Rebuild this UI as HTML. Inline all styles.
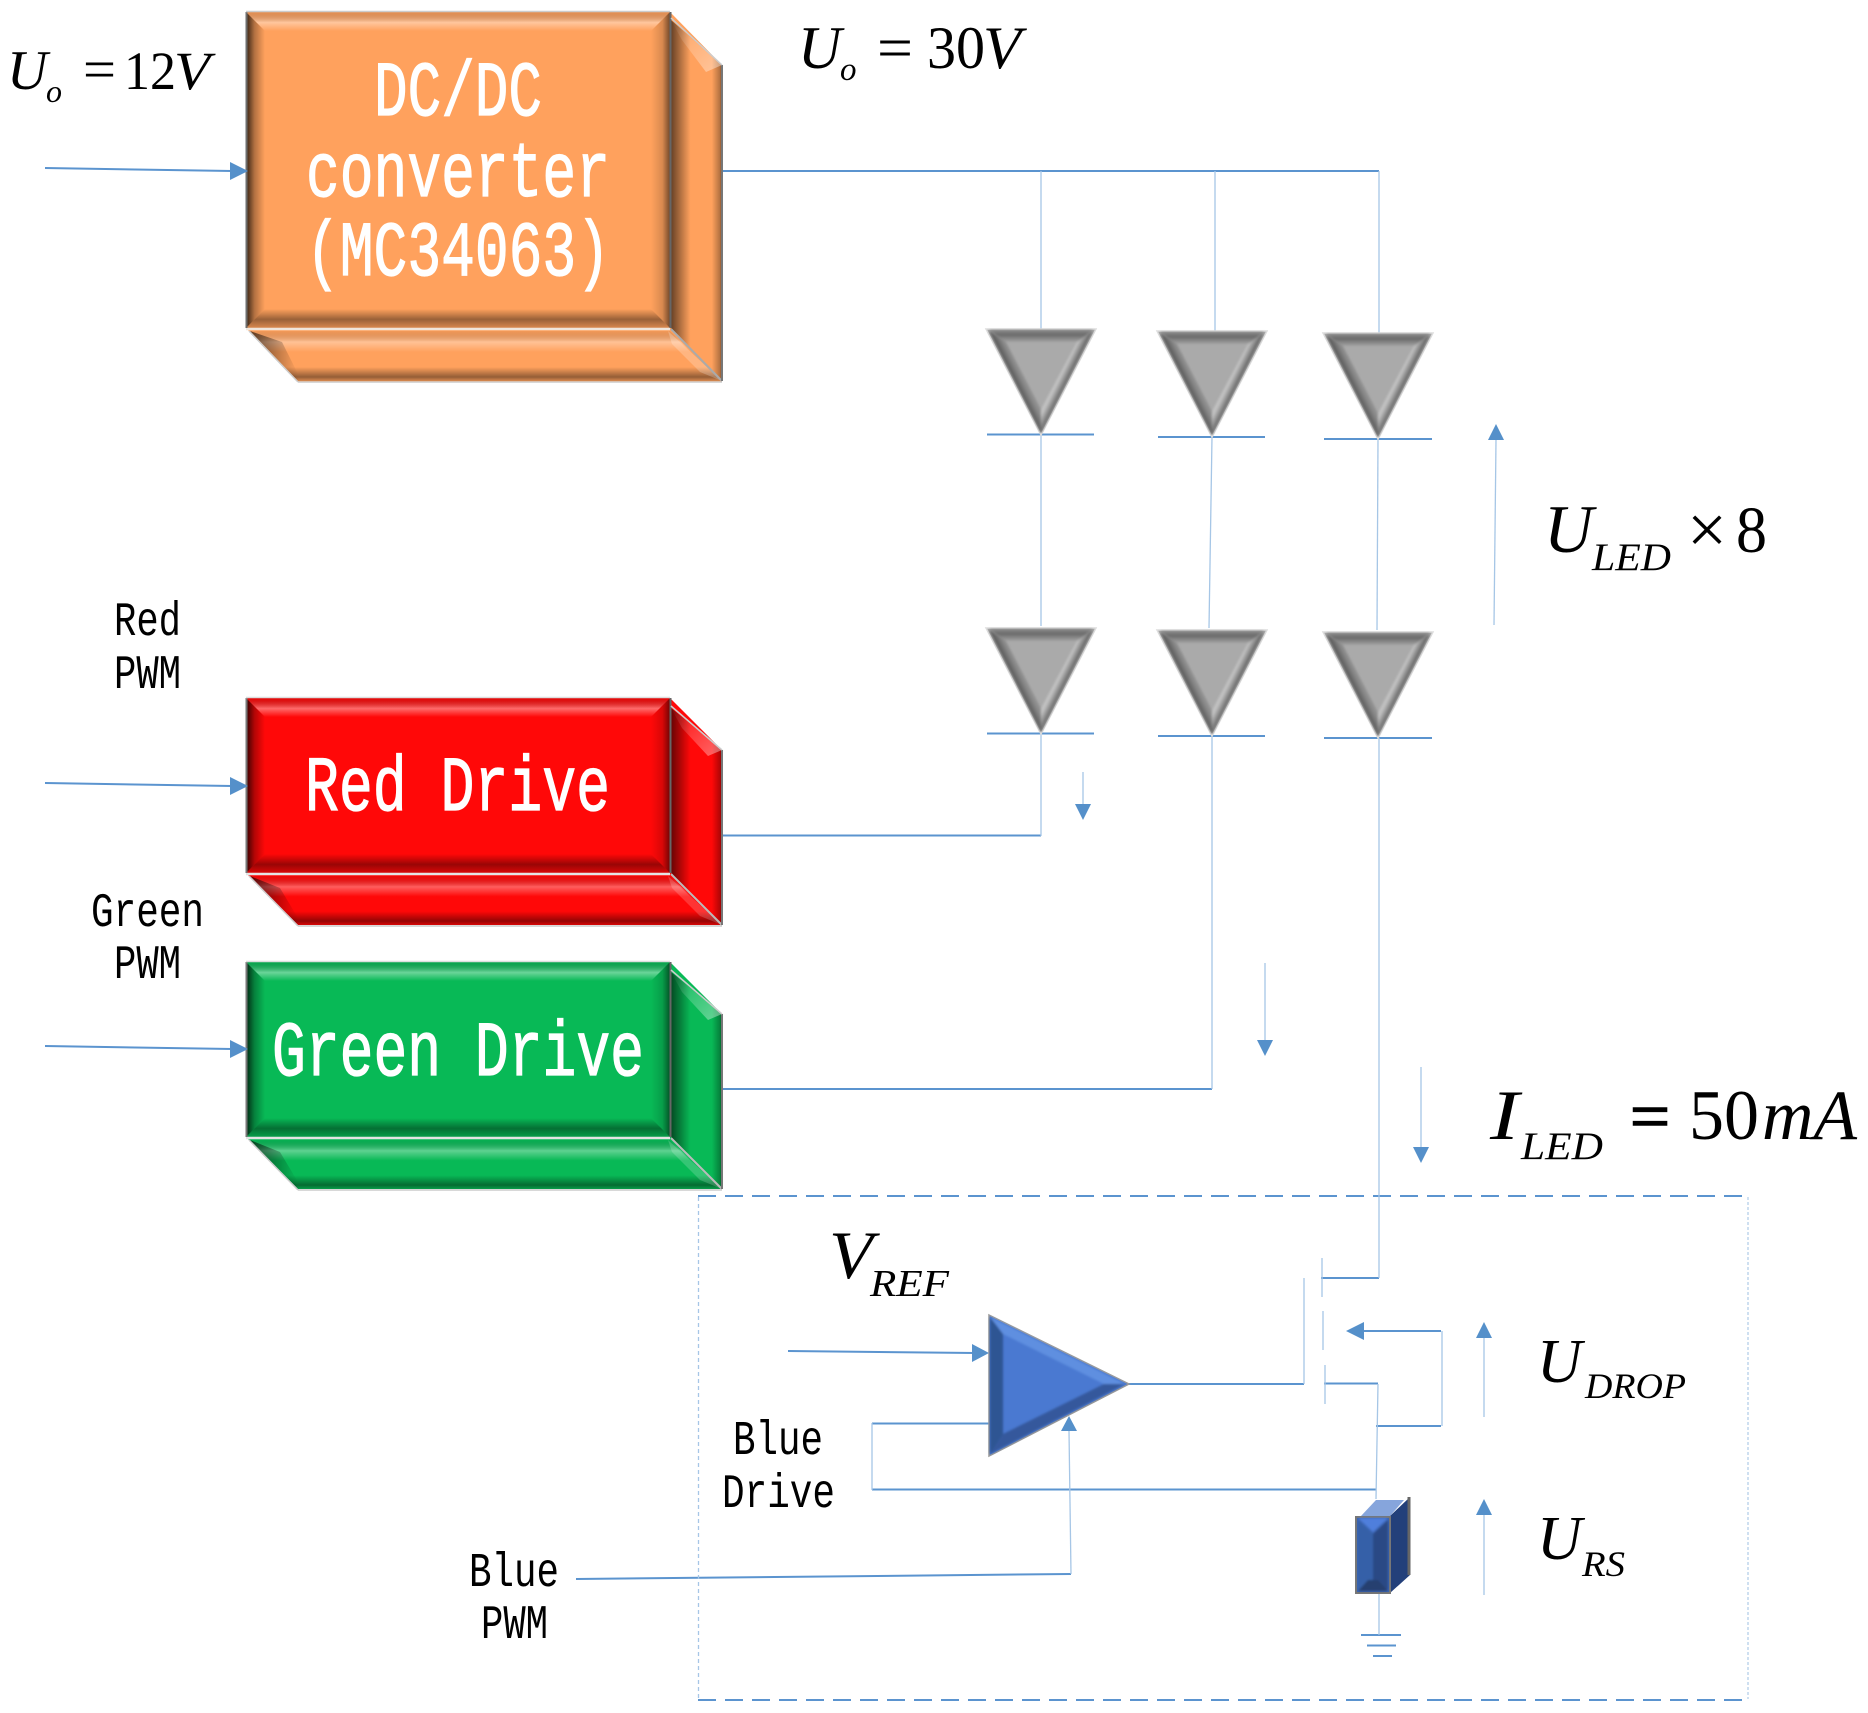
<!DOCTYPE html>
<html><head><meta charset="utf-8"><style>html,body{margin:0;padding:0;background:#fff}svg{display:block}
.m{font-family:"Liberation Mono",monospace}
.s{font-family:"Liberation Serif",serif}
.i{font-family:"Liberation Serif",serif;font-style:italic}
</style></head><body>
<svg xmlns="http://www.w3.org/2000/svg" width="1868" height="1713" viewBox="0 0 1868 1713">
<defs>
<filter id="b" x="-5%" y="-5%" width="110%" height="110%"><feGaussianBlur stdDeviation="1"/></filter>
<linearGradient id="gT" x1="0" y1="0" x2="0" y2="1"><stop offset="0" stop-color="#000" stop-opacity=".1"/><stop offset=".55" stop-color="#fff" stop-opacity=".4"/><stop offset="1" stop-color="#fff" stop-opacity="0"/></linearGradient>
<linearGradient id="gL" x1="0" y1="0" x2="1" y2="0"><stop offset="0" stop-color="#000" stop-opacity=".8"/><stop offset=".45" stop-color="#000" stop-opacity=".3"/><stop offset="1" stop-color="#000" stop-opacity="0"/></linearGradient>
<linearGradient id="gR" x1="0" y1="0" x2="1" y2="0"><stop offset="0" stop-color="#000" stop-opacity="0"/><stop offset=".6" stop-color="#000" stop-opacity=".15"/><stop offset="1" stop-color="#000" stop-opacity=".55"/></linearGradient>
<linearGradient id="gB" x1="0" y1="0" x2="0" y2="1"><stop offset="0" stop-color="#000" stop-opacity="0"/><stop offset=".55" stop-color="#000" stop-opacity=".4"/><stop offset="1" stop-color="#000" stop-opacity=".15"/></linearGradient>
<linearGradient id="gF" x1="0" y1="0" x2="0" y2="1"><stop offset="0" stop-color="#000" stop-opacity=".05"/><stop offset=".22" stop-color="#fff" stop-opacity=".35"/><stop offset=".42" stop-color="#fff" stop-opacity="0"/><stop offset=".72" stop-color="#000" stop-opacity="0"/><stop offset=".92" stop-color="#000" stop-opacity=".42"/><stop offset="1" stop-color="#000" stop-opacity=".15"/></linearGradient>
<linearGradient id="gS" x1="0" y1="0" x2="1" y2="0"><stop offset="0" stop-color="#000" stop-opacity=".6"/><stop offset=".38" stop-color="#000" stop-opacity="0"/><stop offset=".8" stop-color="#000" stop-opacity="0"/><stop offset=".96" stop-color="#000" stop-opacity=".3"/><stop offset="1" stop-color="#000" stop-opacity=".55"/></linearGradient>
<linearGradient id="gC" x1="0" y1="0" x2="1" y2="1"><stop offset="0" stop-color="#fff" stop-opacity="0"/><stop offset="1" stop-color="#fff" stop-opacity=".4"/></linearGradient>
<linearGradient id="gD" x1="0" y1="0" x2="1" y2="0"><stop offset="0" stop-color="#000" stop-opacity=".6"/><stop offset="1" stop-color="#000" stop-opacity="0"/></linearGradient>

<linearGradient id="dT" x1="0" y1="0" x2="0" y2="1"><stop offset="0" stop-color="#8a8a8a"/><stop offset=".4" stop-color="#6a6a6a"/><stop offset="1" stop-color="#a3a3a3"/></linearGradient>
<linearGradient id="dL" gradientUnits="userSpaceOnUse" x1="27" y1="52" x2="43" y2="44"><stop offset="0" stop-color="#4e4e4e"/><stop offset=".5" stop-color="#8a8a8a"/><stop offset="1" stop-color="#aaa"/></linearGradient>
<linearGradient id="dR" gradientUnits="userSpaceOnUse" x1="82" y1="52" x2="66" y2="44"><stop offset="0" stop-color="#5c5c5c"/><stop offset=".5" stop-color="#c4c4c4"/><stop offset="1" stop-color="#aaa"/></linearGradient>
<g id="dio">
<polygon points="0,0 110,0 55,106" fill="#aaa" stroke="#ddd" stroke-width="1.5"/>
<g filter="url(#b)">
<polygon points="3,1 107,1 91,13 20,13" fill="url(#dT)"/>
<polygon points="3,2 20,13 55,80 55,104" fill="url(#dL)"/>
<polygon points="107,2 91,13 55,80 55,104" fill="url(#dR)"/>
</g>
</g>

<g id="fr">
<polygon points="246,0 670,0 651,19 265,19" fill="url(#gT)"/>
<polygon points="246,0 265,19 265,156 246,175" fill="url(#gL)"/>
<polygon points="670,0 651,19 651,156 670,175" fill="url(#gR)"/>
<polygon points="246,175 265,156 651,156 670,175" fill="url(#gB)"/>
</g>
<g id="ex">
<polygon points="250,178 670,178 722,227 298,227" fill="url(#gF)"/>
<polygon points="250,178 280,190 298,220 298,227" fill="url(#gD)"/>
<polygon points="668,178 722,227 700,218 672,190" fill="#fff" opacity=".18"/>
<polygon points="671,10 722,52 722,227 671,175" fill="url(#gS)"/>
<polygon points="671,10 722,52 708,58 682,30" fill="url(#gC)"/>
<line x1="246" y1="176" x2="670" y2="176" stroke="#e4e4e4" stroke-width="2.5"/>
<line x1="246.5" y1="0" x2="246.5" y2="175" stroke="#777" stroke-width="2"/>
<line x1="670.5" y1="0" x2="670.5" y2="175" stroke="#666" stroke-width="2"/>
<line x1="671" y1="176" x2="722" y2="227" stroke="#bbb" stroke-width="2"/>
<line x1="722" y1="52" x2="722" y2="227" stroke="#777" stroke-width="2"/>
<line x1="671" y1="8" x2="722" y2="52" stroke="#ccc" stroke-width="1.5"/>
<line x1="246" y1="-.5" x2="670" y2="-.5" stroke="#ddd" stroke-width="1.5"/>
<line x1="298" y1="228" x2="722" y2="228" stroke="#ccc" stroke-width="1.5"/>
<line x1="249" y1="178" x2="298" y2="228" stroke="#ccc" stroke-width="1.5"/>
</g>
</defs>

<rect width="1868" height="1713" fill="#fff"/>

<!-- Orange box -->
<g>
<polygon points="246,12 670,12 722,65 722,382 298,382 246,328" fill="#ffa15d"/>
<polygon points="246,12 670,12 651,31 265,31" fill="url(#gT)"/>
<polygon points="246,12 265,31 265,309 246,328" fill="url(#gL)"/>
<polygon points="670,12 651,31 651,309 670,328" fill="url(#gR)"/>
<polygon points="246,328 265,309 651,309 670,328" fill="url(#gB)"/>
<polygon points="250,331 670,331 722,381 298,381" fill="url(#gF)"/>
<polygon points="250,331 282,342 298,374 298,381" fill="url(#gD)"/>
<polygon points="668,331 722,381 700,372 672,344" fill="#fff" opacity=".22"/>
<polygon points="671,20 722,65 722,381 671,328" fill="url(#gS)"/>
<polygon points="671,20 722,65 706,72 682,40" fill="url(#gC)"/>
<line x1="246" y1="329" x2="670" y2="329" stroke="#efe6dc" stroke-width="2.5"/>
<line x1="246.5" y1="12" x2="246.5" y2="328" stroke="#6e6e6e" stroke-width="2"/>
<line x1="670.5" y1="12" x2="670.5" y2="328" stroke="#666" stroke-width="2"/>
<line x1="671" y1="329" x2="722" y2="381" stroke="#aaa" stroke-width="2"/>
<line x1="722" y1="65" x2="722" y2="381" stroke="#777" stroke-width="2"/>
<line x1="671" y1="18" x2="722" y2="65" stroke="#ccc" stroke-width="1.5"/>
<line x1="246" y1="11.5" x2="670" y2="11.5" stroke="#ccc" stroke-width="1.5"/>
<line x1="298" y1="382" x2="722" y2="382" stroke="#ccc" stroke-width="1.5"/>
<line x1="249" y1="331" x2="298" y2="382" stroke="#ccc" stroke-width="1.5"/>
</g>
<!-- Red box -->
<polygon points="246,698 670,698 722,750 722,925 298,925 246,873" fill="#ff0808"/>
<use href="#fr" y="698"/><use href="#ex" y="698"/>
<!-- Green box -->
<polygon points="246,962 670,962 722,1014 722,1189 298,1189 246,1137" fill="#08b956"/>
<use href="#fr" y="962"/><use href="#ex" y="962"/>

<!-- box text -->
<g class="m" fill="#fff" stroke="#fff" stroke-width="1.2" font-size="78">
<text x="374" y="115" textLength="168" lengthAdjust="spacingAndGlyphs">DC/DC</text>
<text x="306" y="196" textLength="304" lengthAdjust="spacingAndGlyphs">converter</text>
<text x="306" y="275" textLength="304" lengthAdjust="spacingAndGlyphs">(MC34063)</text>
<text x="305" y="810" textLength="305" lengthAdjust="spacingAndGlyphs">Red Drive</text>
<text x="272" y="1075" textLength="372" lengthAdjust="spacingAndGlyphs">Green Drive</text>
</g>

<!-- heavy wires -->
<g fill="none" stroke="#5b94cf" stroke-width="2">
<line x1="45" y1="168" x2="232" y2="171"/>
<line x1="45" y1="783" x2="232" y2="786"/>
<line x1="45" y1="1046" x2="232" y2="1049"/>
<polyline points="723,171 1379,171"/>
<polyline points="723,835.500 1041,835.500"/>
<polyline points="723,1089 1212,1089"/>
<line x1="987" y1="434.500" x2="1094" y2="434.500"/><line x1="1158" y1="437" x2="1265" y2="437"/><line x1="1324" y1="439" x2="1432" y2="439"/>
<line x1="987" y1="733.500" x2="1094" y2="733.500"/><line x1="1158" y1="736" x2="1265" y2="736"/><line x1="1324" y1="738" x2="1432" y2="738"/>
<line x1="788" y1="1351" x2="975" y2="1353"/>
<polyline points="1127,1384 1304,1384"/>
<polyline points="1321,1278 1379,1278"/>
<polyline points="1355,1331 1441,1331"/>
<polyline points="1324,1383.500 1378,1383.500"/>
<polyline points="1376,1426 1441,1426"/>
<polyline points="989,1423.500 872,1423.500"/>
<polyline points="872,1489.500 1376,1489.500"/>
<line x1="576" y1="1579" x2="1071" y2="1574"/>
<line x1="1361" y1="1635" x2="1401" y2="1635"/><line x1="1367" y1="1645.500" x2="1396" y2="1645.500"/><line x1="1373" y1="1656" x2="1392" y2="1656"/>
<line x1="698" y1="1196" x2="1749" y2="1196" stroke-dasharray="18 9"/>
<line x1="698" y1="1700" x2="1749" y2="1700" stroke-dasharray="18 9"/>
</g>
<!-- light wires -->
<g fill="none" stroke="#a6c6e6" stroke-width="1.3">
<line x1="1041" y1="171" x2="1041" y2="329"/><line x1="1215" y1="171" x2="1215" y2="331"/><line x1="1379" y1="171" x2="1379" y2="333"/>
<line x1="1041" y1="434" x2="1041" y2="626"/><line x1="1212" y1="437" x2="1209" y2="628"/><line x1="1378" y1="439" x2="1377" y2="630"/>
<line x1="1041" y1="734" x2="1041" y2="836"/><line x1="1212" y1="736" x2="1212" y2="1089"/><line x1="1379" y1="738" x2="1379" y2="1278"/>
<line x1="1304" y1="1278" x2="1304" y2="1384"/>
<line x1="1322" y1="1258" x2="1322" y2="1297"/><line x1="1323" y1="1311" x2="1323" y2="1350"/><line x1="1325" y1="1365" x2="1325" y2="1404"/>
<line x1="1442" y1="1331" x2="1442" y2="1426"/>
<polyline points="1378,1384 1376,1499"/>
<line x1="1379" y1="1593" x2="1379" y2="1635"/>
<line x1="872" y1="1423" x2="872" y2="1490"/>
<line x1="1071" y1="1574" x2="1069" y2="1431"/>
<line x1="1083" y1="772" x2="1083" y2="805"/>
<line x1="1265" y1="963" x2="1265" y2="1041"/>
<line x1="1421" y1="1067" x2="1421" y2="1148"/>
<line x1="1494" y1="625" x2="1496" y2="440"/>
<line x1="1484" y1="1338" x2="1484" y2="1417"/>
<line x1="1484" y1="1515" x2="1484" y2="1595"/>
<line x1="698.500" y1="1197" x2="698.500" y2="1699" stroke-dasharray="4 3"/>
<line x1="1748" y1="1197" x2="1748" y2="1699" stroke-dasharray="3 2" stroke="#cfe0f1" stroke-width="2"/>
</g>
<!-- arrowheads -->
<g fill="#5590ca">
<polygon points="248,171 230,162 230,180"/>
<polygon points="248,786 230,777 230,795"/>
<polygon points="248,1049 230,1040 230,1058"/>
<polygon points="989,1353 972,1344 972,1362"/>
<polygon points="1346,1331 1364,1322 1364,1340"/>
<polygon points="1069,1416 1061,1431 1077,1431"/>
<polygon points="1083,820 1075,804 1091,804"/>
<polygon points="1265,1056 1257,1040 1273,1040"/>
<polygon points="1421,1163 1413,1147 1429,1147"/>
<polygon points="1496,424 1488,440 1504,440"/>
<polygon points="1484,1322 1476,1338 1492,1338"/>
<polygon points="1484,1499 1476,1515 1492,1515"/>
</g>

<!-- diodes -->
<use href="#dio" x="986" y="329"/><use href="#dio" x="1157" y="331"/><use href="#dio" x="1323" y="333"/>
<use href="#dio" x="986" y="628"/><use href="#dio" x="1157" y="630"/><use href="#dio" x="1323" y="632"/>

<!-- amp -->
<polygon points="989,1315 1129,1384 989,1456" fill="#4a79d1" stroke="#9a9a9a" stroke-width="1.5"/>
<g filter="url(#b)">
<polygon points="990,1317 1003,1334 1104,1384 1125,1384" fill="#5f8fe0"/>
<polygon points="990,1317 1003,1334 1003,1434 990,1454" fill="#2f5593"/>
<polygon points="990,1454 1003,1434 1104,1384 1125,1384" fill="#34599c"/>
</g>

<!-- resistor -->
<polygon points="1361,1516 1376,1500 1404,1500 1390,1516" fill="#86a5dc"/>
<polygon points="1390,1516 1410,1497 1410,1575 1390,1593" fill="#23407a"/>
<line x1="1409" y1="1497" x2="1409" y2="1575" stroke="#666" stroke-width="3"/>
<rect x="1356" y="1517" width="34" height="76" fill="#3b65b3" stroke="#777" stroke-width="2"/>
<g filter="url(#b)">
<polygon points="1358,1518 1388,1518 1373,1532" fill="#4f7fdc"/>
<polygon points="1358,1520 1373,1534 1373,1580 1358,1590" fill="#3460a8"/>
<polygon points="1388,1520 1373,1534 1373,1580 1388,1590" fill="#2b4a85"/>
<polygon points="1358,1591 1388,1591 1378,1580 1368,1580" fill="#27406f"/>
</g>

<!-- black mono labels -->
<g class="m" fill="#000" font-size="48">
<text x="114" y="635" textLength="67" lengthAdjust="spacingAndGlyphs">Red</text>
<text x="114" y="688" textLength="67" lengthAdjust="spacingAndGlyphs">PWM</text>
<text x="91" y="926" textLength="113" lengthAdjust="spacingAndGlyphs">Green</text>
<text x="114" y="978" textLength="67" lengthAdjust="spacingAndGlyphs">PWM</text>
<text x="733" y="1454" textLength="90" lengthAdjust="spacingAndGlyphs">Blue</text>
<text x="722" y="1507" textLength="113" lengthAdjust="spacingAndGlyphs">Drive</text>
<text x="469" y="1586" textLength="90" lengthAdjust="spacingAndGlyphs">Blue</text>
<text x="481" y="1638" textLength="67" lengthAdjust="spacingAndGlyphs">PWM</text>
</g>

<!-- math -->
<g fill="#000">
<text class="i" x="7" y="89" font-size="56">U</text>
<text class="i" x="46" y="102" font-size="32">o</text>
<text class="s" x="83" y="88" font-size="56" textLength="33" lengthAdjust="spacingAndGlyphs">=</text>
<text class="s" x="124" y="89" font-size="54" textLength="52" lengthAdjust="spacingAndGlyphs">12</text>
<text class="i" x="174" y="89" font-size="54" textLength="36" lengthAdjust="spacingAndGlyphs">V</text>

<text class="i" x="798" y="68" font-size="60">U</text>
<text class="i" x="840" y="80" font-size="33">o</text>
<text class="s" x="877" y="68" font-size="60" textLength="36" lengthAdjust="spacingAndGlyphs">=</text>
<text class="s" x="927" y="68" font-size="60" textLength="58" lengthAdjust="spacingAndGlyphs">30</text>
<text class="i" x="983" y="68" font-size="60" textLength="38" lengthAdjust="spacingAndGlyphs">V</text>

<text class="i" x="1544" y="552" font-size="68">U</text>
<text class="i" x="1592" y="570" font-size="39" textLength="79" lengthAdjust="spacingAndGlyphs">LED</text>
<text class="s" x="1687" y="553" font-size="70" textLength="40" lengthAdjust="spacingAndGlyphs">×</text>
<text class="s" x="1736" y="552" font-size="66" textLength="31" lengthAdjust="spacingAndGlyphs">8</text>

<text class="i" x="1490" y="1139" font-size="71" textLength="29" lengthAdjust="spacingAndGlyphs">I</text>
<text class="i" x="1521" y="1159" font-size="39" textLength="82" lengthAdjust="spacingAndGlyphs">LED</text>
<text class="s" x="1630" y="1139" font-size="68" textLength="40" lengthAdjust="spacingAndGlyphs" stroke="#000" stroke-width="1.5">=</text>
<text class="s" x="1689" y="1139" font-size="71" textLength="70" lengthAdjust="spacingAndGlyphs">50</text>
<text class="i" x="1762" y="1139" font-size="71" textLength="95" lengthAdjust="spacingAndGlyphs">mA</text>

<text class="i" x="829" y="1278" font-size="68" textLength="44" lengthAdjust="spacingAndGlyphs">V</text>
<text class="i" x="870" y="1296" font-size="38" textLength="79" lengthAdjust="spacingAndGlyphs">REF</text>

<text class="i" x="1537" y="1382" font-size="62">U</text>
<text class="i" x="1585" y="1398" font-size="36" textLength="101" lengthAdjust="spacingAndGlyphs">DROP</text>
<text class="i" x="1537" y="1559" font-size="62">U</text>
<text class="i" x="1582" y="1576" font-size="36" textLength="43" lengthAdjust="spacingAndGlyphs">RS</text>
</g>
</svg>
</body></html>
